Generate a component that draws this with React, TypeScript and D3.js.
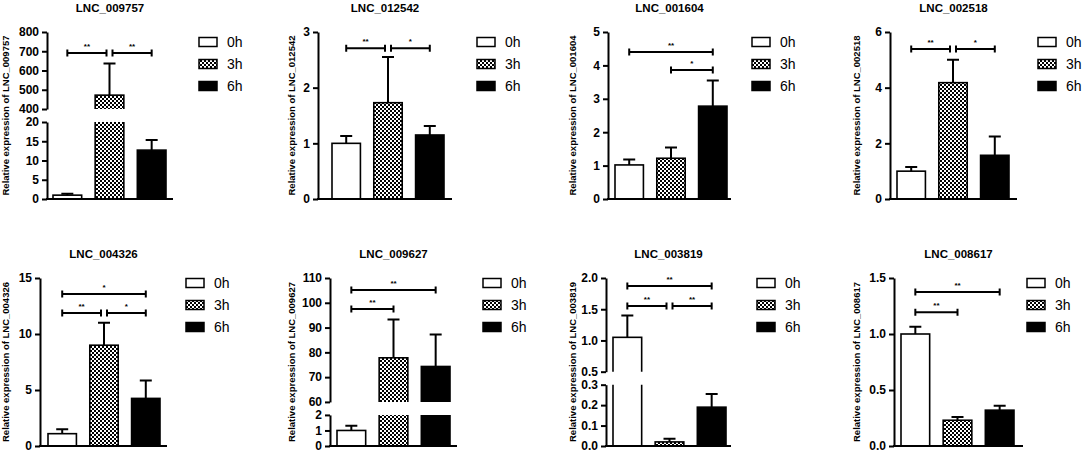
import React, { useRef, useEffect } from 'react';
import * as d3 from 'd3';

const groups = ['0h', '3h', '6h'];
const genes = ['LNC_009757', 'LNC_012542', 'LNC_001604', 'LNC_002518', 'LNC_004326', 'LNC_009627', 'LNC_003819', 'LNC_008617'];

// mean relative expression per gene (0h, 3h, 6h)
const means = [
  [1.0, 472, 12.7],
  [1.0, 1.73, 1.15],
  [1.02, 1.22, 2.78],
  [1.0, 4.18, 1.57],
  [1.1, 9.0, 4.25],
  [1.0, 77.8, 74.3],
  [1.05, 0.02, 0.19],
  [1.0, 0.23, 0.32],
];

// upper error (SEM)
const errs = [
  [0.35, 165, 2.6],
  [0.13, 0.82, 0.16],
  [0.16, 0.32, 0.77],
  [0.15, 0.82, 0.68],
  [0.4, 2.0, 1.6],
  [0.3, 15.5, 12.9],
  [0.35, 0.015, 0.065],
  [0.065, 0.03, 0.04],
];

// y tick values; two lists = broken axis (lower, upper)
const yTicks = [
  [[0, 5, 10, 15, 20], [400, 500, 600, 700, 800]],
  [[0, 1, 2, 3]],
  [[0, 1, 2, 3, 4, 5]],
  [[0, 2, 4, 6]],
  [[0, 5, 10, 15]],
  [[0, 1, 2], [60, 70, 80, 90, 100, 110]],
  [[0, 0.1, 0.2, 0.3], [0.5, 1.0, 1.5, 2.0]],
  [[0, 0.5, 1.0, 1.5]],
];
const tickDecimals = [0, 0, 0, 0, 0, 0, 1, 1];

// significance: [from, to, label, level]
const sigs: [number, number, string, number][][] = [
  [[0, 1, '**', 691], [1, 2, '**', 691]],
  [[0, 1, '**', 2.71], [1, 2, '*', 2.71]],
  [[0, 2, '**', 4.4], [1, 2, '*', 3.86]],
  [[0, 1, '**', 5.39], [1, 2, '*', 5.39]],
  [[0, 2, '*', 13.57], [0, 1, '**', 11.88], [1, 2, '*', 11.88]],
  [[0, 2, '**', 105.2], [0, 1, '**', 97.5]],
  [[0, 2, '**', 1.87], [0, 1, '**', 1.55], [1, 2, '**', 1.55]],
  [[0, 2, '**', 1.374], [0, 1, '**', 1.195]],
];

// layout
const axisX = [47, 318, 608, 890, 40, 330, 606, 894];
const plotRight = [173, 452, 731, 1017, 167, 457, 731, 1023];
const bandRange = [[53, 166], [332, 444], [615, 727], [897, 1009], [48, 160], [337, 450], [613, 726], [901, 1014]];
const labelX = [6, 292, 573, 857, 6, 292, 573, 857];
const legendX = [199, 477, 752, 1038, 186, 483, 757, 1027];
const lowerFrac = [0.461, 0, 0, 0, 0, 0.185, 0.365, 0];
const rowTop = [32, 278];
const rowBottom = [199, 446];
const titleY = [12, 258];
const legendY = [42, 283];
const GAP = 13;
const FONT = '"Liberation Sans", Arial, sans-serif';
const fills = ['#fff', 'url(#checker)', '#000'];

const App: React.FC = () => {
  const svgRef = useRef<SVGSVGElement | null>(null);

  useEffect(() => {
    if (!svgRef.current) return;
    const svg = d3.select(svgRef.current);
    svg.selectAll('*').remove();

    const defs = svg.append('defs');
    const pat = defs.append('pattern')
      .attr('id', 'checker').attr('width', 4).attr('height', 4)
      .attr('patternUnits', 'userSpaceOnUse');
    pat.append('rect').attr('width', 4).attr('height', 4).attr('fill', '#fff');
    pat.append('rect').attr('width', 2).attr('height', 2).attr('fill', '#000');
    pat.append('rect').attr('x', 2).attr('y', 2).attr('width', 2).attr('height', 2).attr('fill', '#000');

    genes.forEach((gene, i) => {
      const row = i < 4 ? 0 : 1;
      const top = rowTop[row];
      const bottom = rowBottom[row];
      const H = bottom - top;
      const g = svg.append('g');

      const x = d3.scaleBand<string>()
        .domain(groups)
        .range(bandRange[i] as [number, number])
        .paddingInner(0.32)
        .paddingOuter(0);
      const bw = x.bandwidth();

      const tickSets = yTicks[i];
      const segs = tickSets.map((ticks, k) => {
        let range: [number, number];
        if (tickSets.length === 1) range = [bottom, top];
        else {
          const lowerH = lowerFrac[i] * H;
          range = k === 0 ? [bottom, bottom - lowerH] : [top + (H - lowerH - GAP), top];
        }
        return {
          ticks,
          y: d3.scaleLinear().domain([ticks[0], ticks[ticks.length - 1]]).range(range),
        };
      });

      segs.forEach((s, k) => {
        const [lo, hi] = s.y.domain();
        const [yb, yt] = s.y.range();
        const clipId = `clip-${i}-${k}`;
        defs.append('clipPath').attr('id', clipId)
          .append('rect')
          .attr('x', axisX[i]).attr('y', yt)
          .attr('width', plotRight[i] - axisX[i]).attr('height', yb - yt);

        const bars = g.append('g').attr('clip-path', `url(#${clipId})`);
        groups.forEach((grp, j) => {
          const v = means[i][j];
          if (v <= lo) return;
          const yTop = v > hi ? yt - 5 : s.y(v);
          const yBot = lo > 0 ? yb + 5 : yb;
          bars.append('rect')
            .attr('x', x(grp) as number)
            .attr('y', yTop)
            .attr('width', bw)
            .attr('height', yBot - yTop)
            .attr('fill', fills[j])
            .attr('stroke', '#000')
            .attr('stroke-width', 1.6);
        });

        const ax = g.append('g')
          .attr('transform', `translate(${axisX[i]},0)`)
          .call(d3.axisLeft(s.y)
            .tickValues(s.ticks)
            .tickSize(5)
            .tickSizeOuter(0)
            .tickPadding(3)
            .tickFormat(d3.format(`.${tickDecimals[i]}f`) as any));
        ax.select('.domain').attr('stroke-width', 2);
        ax.selectAll('.tick line').attr('stroke-width', 2);
        ax.selectAll('.tick text')
          .attr('font-family', FONT)
          .attr('font-size', 12)
          .attr('font-weight', 'bold')
          .attr('fill', '#000');
      });

      // error bars (upper whisker)
      groups.forEach((grp, j) => {
        const v = means[i][j];
        const e = errs[i][j];
        const s = segs.find(sg => v <= sg.y.domain()[1]) ?? segs[segs.length - 1];
        const cx = (x(grp) as number) + bw / 2;
        g.append('path')
          .attr('d', `M${cx},${s.y(v)}V${s.y(v + e)}M${cx - 6},${s.y(v + e)}H${cx + 6}`)
          .attr('fill', 'none')
          .attr('stroke', '#000')
          .attr('stroke-width', 2);
      });

      // x axis line
      g.append('line')
        .attr('x1', axisX[i] - 1).attr('x2', plotRight[i])
        .attr('y1', bottom).attr('y2', bottom)
        .attr('stroke', '#000').attr('stroke-width', 2);

      // significance brackets
      const upper = segs[segs.length - 1].y;
      sigs[i].forEach(sg => {
        const [a, b, label, level] = sg;
        let x1 = (x(groups[a]) as number) + bw / 2;
        let x2 = (x(groups[b]) as number) + bw / 2;
        if (sigs[i].some(o => o !== sg && o[3] === level && o[1] === a)) x1 += 3;
        if (sigs[i].some(o => o !== sg && o[3] === level && o[0] === b)) x2 -= 3;
        const y = upper(level);
        g.append('path')
          .attr('d', `M${x1},${y - 3.5}V${y + 3.5}M${x1},${y}H${x2}M${x2},${y - 3.5}V${y + 3.5}`)
          .attr('fill', 'none')
          .attr('stroke', '#000')
          .attr('stroke-width', 2);
        g.append('text')
          .attr('x', (x1 + x2) / 2)
          .attr('y', y - 4)
          .attr('text-anchor', 'middle')
          .attr('font-family', FONT)
          .attr('font-size', 8)
          .attr('font-weight', 'bold')
          .text(label);
      });

      // title
      g.append('text')
        .attr('x', (axisX[i] + plotRight[i]) / 2)
        .attr('y', titleY[row])
        .attr('text-anchor', 'middle')
        .attr('font-family', FONT)
        .attr('font-size', 11.5)
        .attr('font-weight', 'bold')
        .text(gene);

      // y label
      g.append('text')
        .attr('transform', `translate(${labelX[i]},${(top + bottom) / 2}) rotate(-90)`)
        .attr('dy', '0.35em')
        .attr('text-anchor', 'middle')
        .attr('font-family', FONT)
        .attr('font-size', 9.5)
        .attr('font-weight', 'bold')
        .text(`Relative expression of ${gene}`);

      // legend
      groups.forEach((grp, j) => {
        const ly = legendY[row] + j * 22;
        g.append('rect')
          .attr('x', legendX[i]).attr('y', ly - 4.5)
          .attr('width', 18).attr('height', 9)
          .attr('fill', fills[j])
          .attr('stroke', '#000').attr('stroke-width', 1.5);
        g.append('text')
          .attr('x', legendX[i] + 28)
          .attr('y', ly + 5)
          .attr('font-family', FONT)
          .attr('font-size', 14)
          .text(grp);
      });
    });
  }, []);

  return (
    <svg
      ref={svgRef}
      width={1084}
      height={454}
      style={{ position: 'absolute', left: 0, top: 0, background: '#fff' }}
    />
  );
};

export default App;
